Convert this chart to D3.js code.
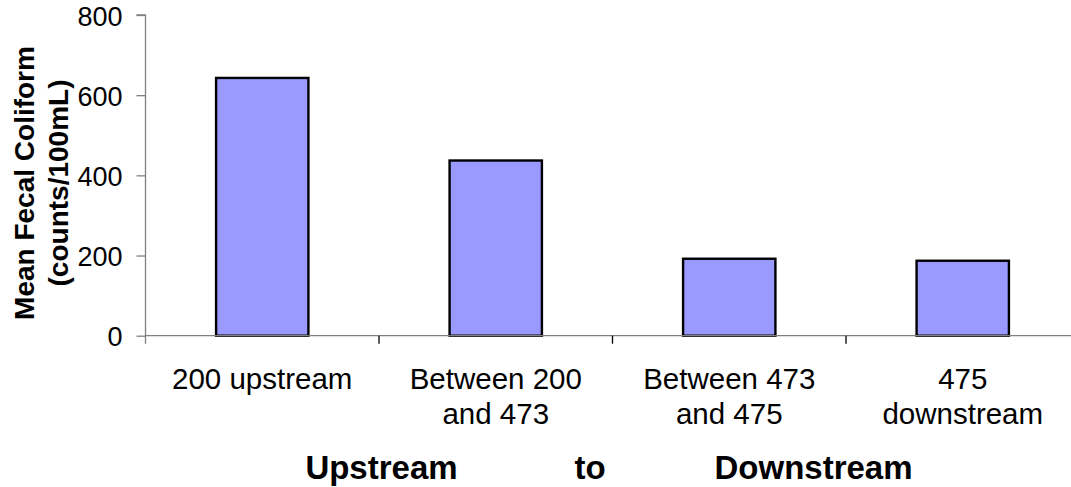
<!DOCTYPE html>
<html>
<head>
<meta charset="utf-8">
<script src="https://cdn.jsdelivr.net/npm/d3@7"></script>
<style>
  html, body { margin: 0; padding: 0; background: #fff; }
  svg { display: block; font-family: "Liberation Sans", Arial, sans-serif; }
</style>
</head>
<body>
<svg id="chart" width="1071" height="487"></svg>
<script>
// Mean fecal coliform by sampling reach
const categories = [
  ["200 upstream"],
  ["Between 200", "and 473"],
  ["Between 473", "and 475"],
  ["475", "downstream"]
];
const meanColiform = [643, 437, 192, 187];
const yTicks = [0, 200, 400, 600, 800];
const yTitle = ["Mean Fecal Coliform", "(counts/100mL)"];
const xTitle = ["Upstream", "to", "Downstream"];

const svg = d3.select("#chart");
const plotLeft = 145.5, plotRight = 1079.5, plotTop = 15, plotBottom = 335.7;

const x = d3.scaleBand()
  .domain(d3.range(categories.length))
  .range([plotLeft, plotRight])
  .paddingInner(0.596)
  .paddingOuter(0.298);

const y = d3.scaleLinear().domain([0, 800]).range([plotBottom, plotTop]);

const axisColor = "#808080";

// y axis
const yAxis = svg.append("g")
  .attr("transform", `translate(${plotLeft},0)`)
  .call(d3.axisLeft(y).tickValues(yTicks).tickSize(9).tickPadding(14).tickFormat(d3.format("d")));
yAxis.select(".domain").attr("stroke", axisColor).attr("stroke-width", 1.3)
  .attr("d", `M-9,${plotTop}H0V${plotBottom + 8}`);
yAxis.selectAll(".tick line").attr("stroke", axisColor).attr("stroke-width", 1.3);
yAxis.selectAll(".tick text")
  .attr("fill", "#000")
  .style("font-size", "27px")
  .attr("dy", "0.37em");

// bars
svg.append("g").selectAll("rect")
  .data(meanColiform)
  .join("rect")
  .attr("x", (d, i) => x(i) + 1)
  .attr("y", d => y(d))
  .attr("width", x.bandwidth() - 2)
  .attr("height", d => plotBottom - y(d))
  .attr("fill", "#9999FF")
  .attr("stroke", "#000")
  .attr("stroke-width", 2.4);

// x axis line and category separators
const xg = svg.append("g");
xg.append("line")
  .attr("x1", plotLeft).attr("x2", plotRight)
  .attr("y1", plotBottom).attr("y2", plotBottom)
  .attr("stroke", axisColor).attr("stroke-width", 1.3);
xg.selectAll("line.sep")
  .data(d3.range(1, categories.length + 1))
  .join("line")
  .attr("class", "sep")
  .attr("x1", i => plotLeft + i * x.step()).attr("x2", i => plotLeft + i * x.step())
  .attr("y1", plotBottom).attr("y2", plotBottom + 8)
  .attr("stroke", "#000").attr("stroke-width", 1.3);

// category labels
xg.selectAll("text.cat")
  .data(categories)
  .join("text")
  .attr("class", "cat")
  .attr("text-anchor", "middle")
  .attr("x", (d, i) => x(i) + x.bandwidth() / 2)
  .attr("y", 388.5)
  .style("font-size", "29.5px")
  .attr("fill", "#000")
  .selectAll("tspan")
  .data(d => d)
  .join("tspan")
  .attr("x", function() { return d3.select(this.parentNode).attr("x"); })
  .attr("dy", (d, j) => j === 0 ? 0 : 35)
  .text(d => d);

// y title
const yt = svg.append("text")
  .attr("transform", `translate(0,183) rotate(-90)`)
  .attr("text-anchor", "middle")
  .style("font-size", "28px")
  .style("font-weight", "bold")
  .attr("fill", "#000");
yt.selectAll("tspan")
  .data(yTitle)
  .join("tspan")
  .attr("x", 0)
  .attr("y", (d, i) => i === 0 ? 34 : 68)
  .text(d => d);

// x title
const xTitlePos = [381.5, 590, 813.5];
svg.append("g").selectAll("text")
  .data(xTitle)
  .join("text")
  .attr("x", (d, i) => xTitlePos[i])
  .attr("y", 479)
  .attr("text-anchor", "middle")
  .style("font-size", "33px")
  .style("font-weight", "bold")
  .attr("fill", "#000")
  .text(d => d);
</script>
</body>
</html>
